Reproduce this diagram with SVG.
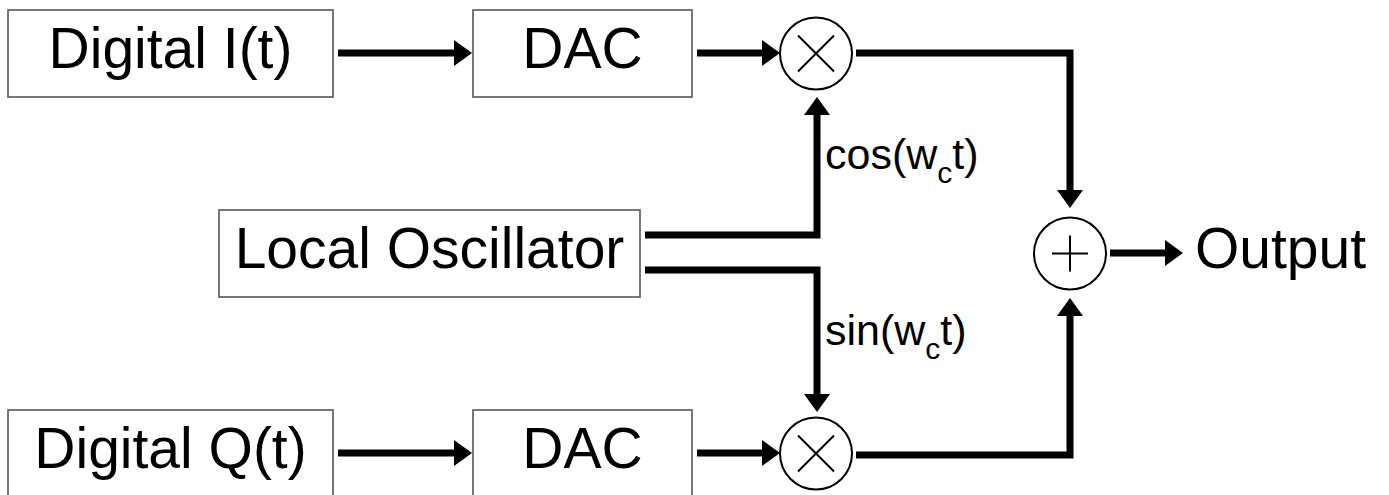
<svg xmlns="http://www.w3.org/2000/svg" width="1389" height="495" viewBox="0 0 1389 495">
<style>
.box{fill:#fff;stroke:#555;stroke-width:1.6}
.lbl{font-family:"Liberation Sans",Arial,sans-serif;font-size:57px;fill:#000;text-anchor:middle}
.sm{font-family:"Liberation Sans",Arial,sans-serif;font-size:43px;fill:#000}
.op{fill:#fff;stroke:#000;stroke-width:2}
.sym{stroke:#000;stroke-width:2;fill:none}
.wire{fill:none;stroke:#000;stroke-width:7;stroke-linejoin:miter}
</style>
<defs>
<marker id="ah" viewBox="0 0 18 26" markerWidth="18" markerHeight="26" refX="1" refY="13" orient="auto" markerUnits="userSpaceOnUse">
<path d="M0,0 L18,13 L0,26 Z" fill="#000"/>
</marker>
</defs>
<rect width="1389" height="495" fill="#fff"/>
<g id="connectors">
<path class="wire" d="M338,53 H455" marker-end="url(#ah)"/>
<path class="wire" d="M697,53 H763" marker-end="url(#ah)"/>
<path class="wire" d="M856,53 H1070 V191" marker-end="url(#ah)"/>
<path class="wire" d="M1110,253 H1166" marker-end="url(#ah)"/>
<path class="wire" d="M645,235 H817 V114" marker-end="url(#ah)"/>
<path class="wire" d="M645,270 H817 V395" marker-end="url(#ah)"/>
<path class="wire" d="M338,453 H455" marker-end="url(#ah)"/>
<path class="wire" d="M697,453 H763" marker-end="url(#ah)"/>
<path class="wire" d="M856,455 H1070 V315" marker-end="url(#ah)"/>
<text class="sm" x="825" y="169">cos(w<tspan dy="14" font-size="30">c</tspan><tspan dy="-14">t)</tspan></text>
<text class="sm" x="825" y="345">sin(w<tspan dy="14" font-size="30">c</tspan><tspan dy="-14">t)</tspan></text>
</g>
<g id="digital-i">
<rect class="box" x="8" y="10" width="325" height="87"/>
<text class="lbl" x="170.5" y="68">Digital I(t)</text>
</g>
<g id="dac-i">
<rect class="box" x="473" y="10" width="219" height="87"/>
<text class="lbl" x="582.5" y="68">DAC</text>
</g>
<g id="mult-i">
<circle class="op" cx="816" cy="53.5" r="36"/>
<path class="sym" d="M798,35.5 L834,71.5 M834,35.5 L798,71.5"/>
</g>
<g id="local-oscillator">
<rect class="box" x="219" y="210" width="421" height="87"/>
<text class="lbl" x="429.5" y="268">Local Oscillator</text>
</g>
<g id="sum">
<circle class="op" cx="1070" cy="253.5" r="36"/>
<path class="sym" d="M1052,253.5 H1088 M1070,235.5 V271.5"/>
</g>
<g id="output">
<text class="lbl" x="1195" y="268" style="text-anchor:start">Output</text>
</g>
<g id="digital-q">
<rect class="box" x="8" y="410" width="325" height="90"/>
<text class="lbl" x="170.5" y="468">Digital Q(t)</text>
</g>
<g id="dac-q">
<rect class="box" x="473" y="410" width="219" height="90"/>
<text class="lbl" x="582.5" y="468">DAC</text>
</g>
<g id="mult-q">
<circle class="op" cx="816" cy="453.5" r="36"/>
<path class="sym" d="M798,435.5 L834,471.5 M834,435.5 L798,471.5"/>
</g>
</svg>
